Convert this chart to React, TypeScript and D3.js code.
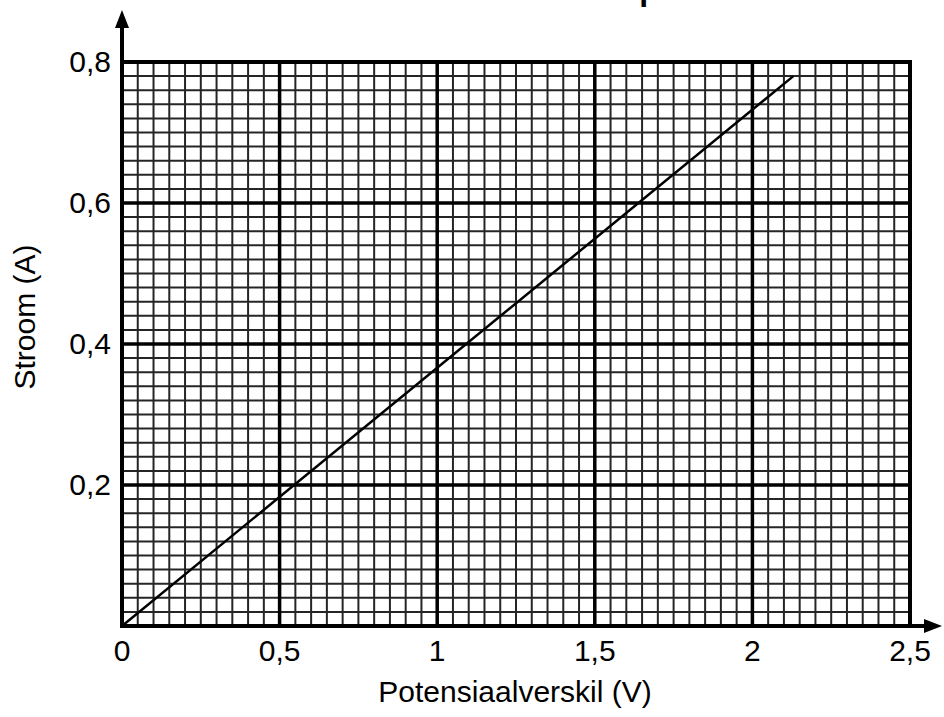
import React from "react";
import * as d3 from "d3";

// measured line (Potensiaalverskil V vs Stroom A)
const voltage = [0, 2.13];
const current = [0, 0.78];

const xTicks = [0, 0.5, 1, 1.5, 2, 2.5];
const xTickLabels = ["0", "0,5", "1", "1,5", "2", "2,5"];
const yTicks = [0.2, 0.4, 0.6, 0.8];
const yTickLabels = ["0,2", "0,4", "0,6", "0,8"];

const title = "Grafiek van stroom teenoor potensiaalverskil";
const xLabel = "Potensiaalverskil (V)";
const yLabel = "Stroom (A)";

const W = 944;
const H = 717;
const left = 122;
const right = 910;
const top = 62;
const bottom = 626;
const font = "Liberation Sans, Arial, sans-serif";

export default function App() {
  const x = d3.scaleLinear().domain([0, 2.5]).range([left, right]);
  const y = d3.scaleLinear().domain([0, 0.8]).range([bottom, top]);

  const minorX = d3.range(0, 51).map((i) => i * 0.05);
  const minorY = d3.range(0, 41).map((i) => i * 0.02);

  const line = d3
    .line<number>()
    .x((d) => x(d))
    .y((_, i) => y(current[i]));

  return (
    <svg
      width={W}
      height={H}
      style={{ position: "absolute", left: 0, top: 0, background: "#fff" }}
    >
      <text
        x={899}
        y={0}
        textAnchor="end"
        fontFamily={font}
        fontWeight="bold"
        fontSize={32}
      >
        {title}
      </text>

      {/* minor grid */}
      <g stroke="#000" strokeWidth={2} opacity={0.85}>
        {minorX.map((v, i) => (
          <line key={"mx" + i} x1={x(v)} x2={x(v)} y1={top} y2={bottom} />
        ))}
        {minorY.map((v, i) => (
          <line key={"my" + i} x1={left} x2={right} y1={y(v)} y2={y(v)} />
        ))}
      </g>

      {/* major grid */}
      <g stroke="#000" strokeWidth={3.5}>
        {xTicks.map((v) => (
          <line key={"Mx" + v} x1={x(v)} x2={x(v)} y1={top} y2={bottom} />
        ))}
        {yTicks.map((v) => (
          <line key={"My" + v} x1={left} x2={right} y1={y(v)} y2={y(v)} />
        ))}
      </g>

      <rect
        x={left}
        y={top}
        width={right - left}
        height={bottom - top}
        fill="none"
        stroke="#000"
        strokeWidth={4}
      />

      {/* axes with arrows */}
      <line x1={left} x2={left} y1={bottom} y2={26} stroke="#000" strokeWidth={4} />
      <path d={`M${left - 7},${28} L${left},${10} L${left + 7},${28} Z`} fill="#000" />
      <line x1={left} x2={926} y1={bottom} y2={bottom} stroke="#000" strokeWidth={4} />
      <path d={`M${924},${bottom - 7} L${942},${bottom} L${924},${bottom + 7} Z`} fill="#000" />

      {/* data line */}
      <path d={line(voltage) || ""} fill="none" stroke="#000" strokeWidth={2.5} />

      {/* tick labels */}
      <g fontFamily={font} fontSize={30} fill="#000">
        {xTicks.map((v, i) => (
          <text key={"xt" + v} x={x(v)} y={bottom + 35} textAnchor="middle">
            {xTickLabels[i]}
          </text>
        ))}
        {yTicks.map((v, i) => (
          <text key={"yt" + v} x={left - 11} y={y(v) + 10} textAnchor="end">
            {yTickLabels[i]}
          </text>
        ))}
      </g>

      <text
        x={515}
        y={702}
        textAnchor="middle"
        fontFamily={font}
        fontSize={30}
      >
        {xLabel}
      </text>
      <text
        transform={`translate(35,${317}) rotate(-90)`}
        textAnchor="middle"
        fontFamily={font}
        fontSize={30}
      >
        {yLabel}
      </text>
    </svg>
  );
}
